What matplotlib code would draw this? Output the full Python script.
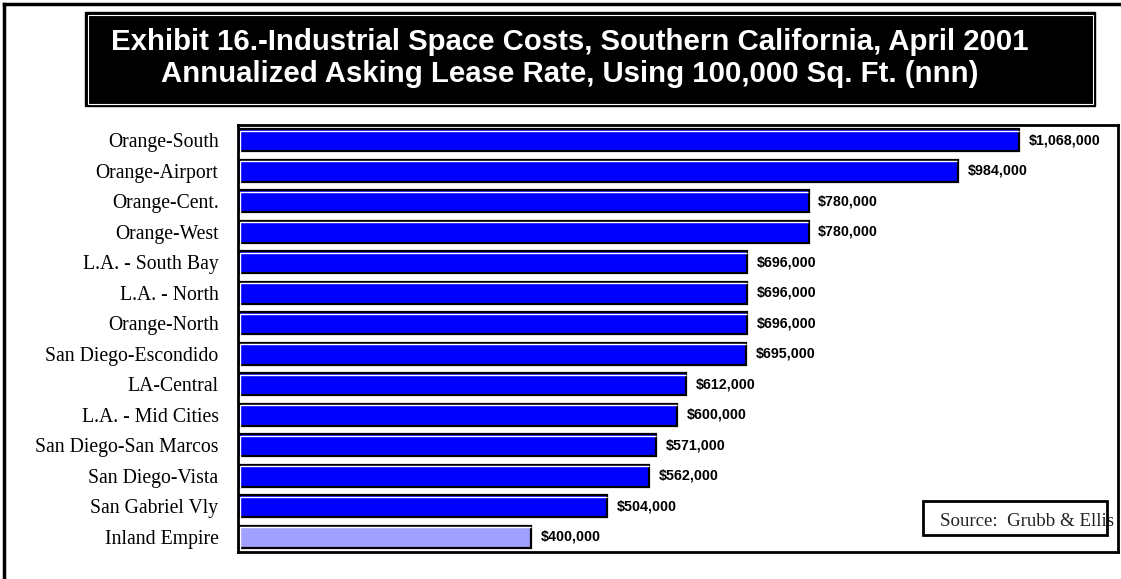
import matplotlib
matplotlib.use("Agg")
import matplotlib.pyplot as plt
import matplotlib.transforms as mtransforms
from matplotlib.patches import Rectangle
from matplotlib.lines import Line2D

# Annualized asking lease rate for 100,000 sq. ft., by market
markets = [
    "Orange-South", "Orange-Airport", "Orange-Cent.", "Orange-West",
    "L.A. - South Bay", "L.A. - North", "Orange-North", "San Diego-Escondido",
    "LA-Central", "L.A. - Mid Cities", "San Diego-San Marcos", "San Diego-Vista",
    "San Gabriel Vly", "Inland Empire",
]
lease_cost = [
    1068000, 984000, 780000, 780000,
    696000, 696000, 696000, 695000,
    612000, 600000, 571000, 562000,
    504000, 400000,
]
highlight = "Inland Empire"

W, H = 1121, 579
fig = plt.figure(figsize=(W / 100, H / 100), dpi=100)


def px(x, y):
    # pixel position (from top-left) -> figure fraction
    return x / W, 1 - y / H


# outer frame (top and left edges)
fig.add_artist(Line2D([4 / W, 1], [1 - 4 / H, 1 - 4 / H], color="black", lw=2.5,
                      transform=fig.transFigure))
fig.add_artist(Line2D([4 / W, 4 / W], [0, 1 - 4 / H], color="black", lw=2.5,
                      transform=fig.transFigure))

# title block
x0, y0 = px(85, 106)
fig.add_artist(Rectangle((x0, y0), 1010 / W, 94 / H, transform=fig.transFigure,
                         facecolor="black", edgecolor="black", lw=1))
fig.add_artist(Rectangle((x0 + 2.5 / W, y0 + 2.5 / H), 1005 / W, 89 / H,
                         transform=fig.transFigure, facecolor="none",
                         edgecolor="white", lw=0.8))
title_kw = dict(color="white", fontsize=21.2, fontweight="bold",
                family="Liberation Sans", ha="center", va="baseline")
fig.text(*px(570, 50), "Exhibit 16.-Industrial Space Costs, Southern California, April 2001",
         **title_kw)
fig.text(*px(570, 82), "Annualized Asking Lease Rate, Using 100,000 Sq. Ft. (nnn)",
         **title_kw)

# bar chart
ax = fig.add_axes([238 / W, 27 / H, 880 / W, 427 / H])
colors = ["#A0A0FF" if m == highlight else "#0000FF" for m in markets]
bars = ax.barh(range(len(markets)), lease_cost, height=0.72, color=colors,
               edgecolor="black", linewidth=1.6)
ax.set_xlim(0, 1203000)
ax.set_ylim(len(markets) - 0.5, -0.5)

# thin white highlight along the top and left inside each bar
inset = mtransforms.offset_copy(ax.transData, fig=fig, x=1.6, y=-1.6, units="dots")
for p in bars.patches:
    x, y, w, h = p.get_x(), p.get_y(), p.get_width(), p.get_height()
    ax.plot([x, x, x + w - w * 0.003], [y + h, y, y], color="white", lw=1,
            transform=inset, solid_capstyle="butt")

ax.set_yticks(range(len(markets)))
ax.set_yticklabels(markets, family="Liberation Serif", fontsize=14.2)
ax.tick_params(axis="y", length=0, pad=14)
ax.set_xticks([])
for s in ax.spines.values():
    s.set_linewidth(2)

ax.bar_label(bars, labels=[f"${v:,}" for v in lease_cost], padding=7,
             family="Liberation Sans", fontweight="bold", fontsize=10.3)

# source note
sx, sy = px(923, 535)
fig.add_artist(Rectangle((sx, sy), 184 / W, 34 / H, transform=fig.transFigure,
                         facecolor="none", edgecolor="black", lw=2, zorder=5))
fig.text(*px(940, 522), "Source:  Grubb & Ellis", family="Liberation Serif",
         fontsize=13.6, ha="left", va="center", color="#222222")

fig.savefig("out.png", dpi=100)
